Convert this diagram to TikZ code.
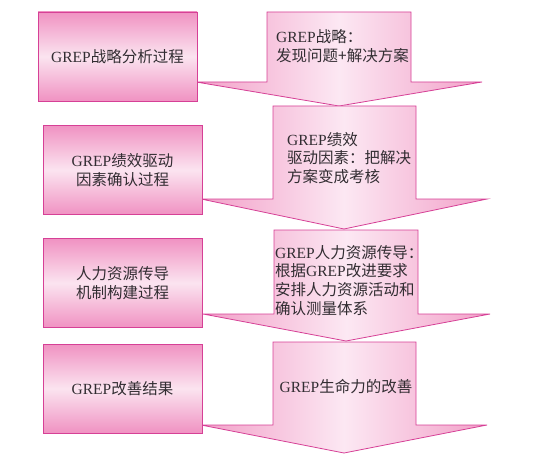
\documentclass[tikz,border=0pt]{standalone}
\usepackage{fontspec}
\setmainfont{Liberation Serif}
\newfontfamily\cjk{Noto Sans CJK SC}
\newcommand\G{{\rmfamily GREP}}

\definecolor{linepink}{RGB}{214,64,150}
\definecolor{boxdark}{RGB}{240,146,194}
\definecolor{boxlight}{RGB}{251,228,240}
\definecolor{arrdark}{RGB}{242,160,200}
\definecolor{arrlight}{RGB}{252,232,243}
\definecolor{textgray}{RGB}{50,45,50}

\tikzset{
  procbox/.style={draw=linepink, line width=0.8pt, top color=boxdark, bottom color=boxdark,
    middle color=boxlight, minimum width=159pt, minimum height=89pt, inner sep=0pt,
    align=center, font=\cjk\fontsize{15.5}{19}\selectfont, text=textgray},
  flowarr/.style={draw=linepink, line width=0.8pt, left color=arrdark, right color=arrdark,
    middle color=arrlight},
  arrtext/.style={inner sep=0pt, align=left, font=\cjk\fontsize{15.5}{18.8}\selectfont, text=textgray}
}

\begin{document}
\begin{tikzpicture}[x=1pt, y=-1pt]
  \useasboundingbox (0,0) rectangle (540,465);

  % arrows on the right
  \path[flowarr] (267,12) -- (411,12) -- (411,82) -- (482,82) -- (339,106)
     -- (196,82) -- (267,82) -- cycle;
  \path[flowarr] (273,106) -- (416,106) -- (416,199) -- (487,199) -- (344,229)
     -- (201,199) -- (273,199) -- cycle;
  \path[flowarr] (274,230) -- (418,230) -- (418,314) -- (490,314) -- (346,341)
     -- (203,314) -- (274,314) -- cycle;
  \path[flowarr] (273,342) -- (416,342) -- (416,425) -- (487,425) -- (344,453)
     -- (201,425) -- (273,425) -- cycle;

  \node[arrtext, anchor=west] (a1) at (276,46.5) {\G 战略：\\发现问题+解决方案};
  \node[arrtext, anchor=west] (a2) at (287,158) {\G 绩效\\驱动因素：把解决\\方案变成考核};
  \node[arrtext, anchor=west] (a3) at (275,280.5) {\G 人力资源传导：\\根据\G 改进要求\\安排人力资源活动和\\确认测量体系};
  \node[arrtext] (a4) at (346,387) {\G 生命力的改善};

  % process boxes on the left
  \node[procbox, minimum width=159pt] (b1) at (117.5,56.5) {\G 战略分析过程};
  \node[procbox] (b2) at (122.5,170) {\G 绩效驱动\\因素确认过程};
  \node[procbox] (b3) at (122.5,283) {人力资源传导\\机制构建过程};
  \node[procbox] (b4) at (122.5,388.5) {\G 改善结果};
\end{tikzpicture}
\end{document}
